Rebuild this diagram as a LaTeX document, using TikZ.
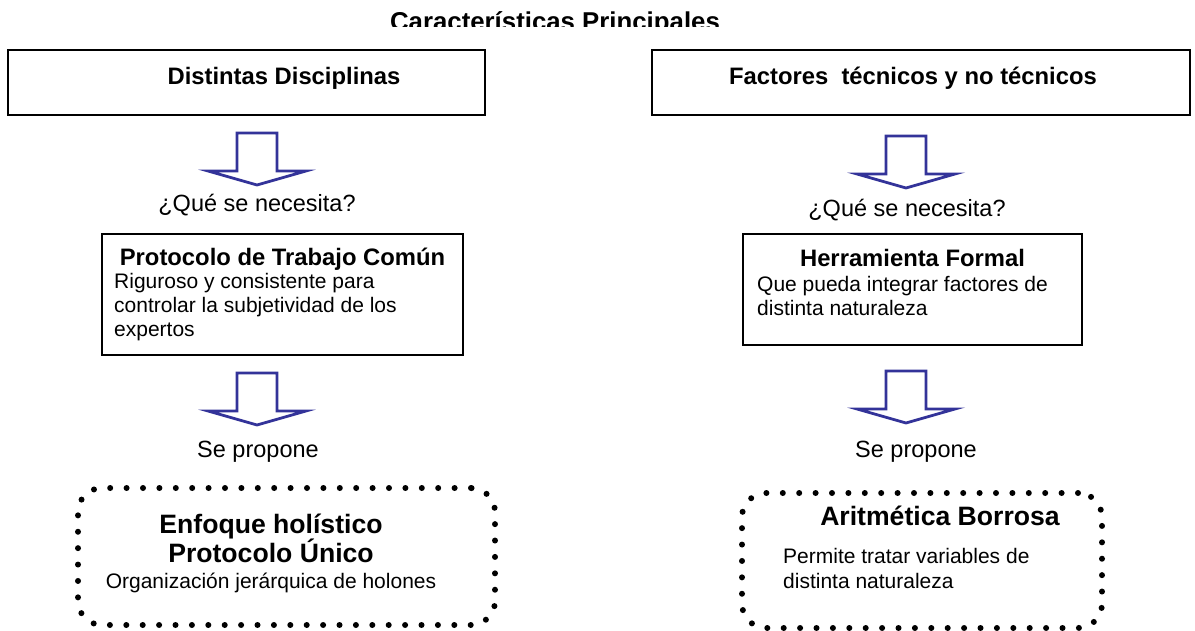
\documentclass[tikz,border=0pt]{standalone}
\usepackage{fontspec}
\setmainfont{Liberation Sans}
\usetikzlibrary{positioning}

\definecolor{arrowblue}{RGB}{51,51,153}

\tikzset{
  frame/.style={draw, line width=2.4pt, inner sep=0pt},
  dotframe/.style={draw, line width=6pt, line cap=round, dash pattern=on 0pt off 16.4pt, rounded corners=24pt, inner sep=0pt},
  titletext/.style={font=\bfseries\fontsize{25.8}{30}\selectfont, anchor=base, inner sep=0pt},
  boxhead/.style={font=\bfseries\fontsize{23.8}{28}\selectfont, anchor=base, inner sep=0pt},
  bighead/.style={font=\bfseries\fontsize{26.6}{29}\selectfont, anchor=base, inner sep=0pt},
  bodytext/.style={font=\fontsize{21}{24.2}\selectfont, align=left, anchor=base west, inner sep=0pt},
  steptext/.style={font=\fontsize{23.5}{28}\selectfont, anchor=base, inner sep=0pt},
  hollow arrow/.pic={
    \draw[arrowblue, line width=2.8pt, line join=miter, fill=white]
      (-20,0) -- (20,0) -- (20,38) -- (49,38) -- (0,52) -- (-49,38) -- (-20,38) -- cycle;
  }
}

\begin{document}
\begin{tikzpicture}[x=1pt, y=-1pt]
    \useasboundingbox (0,0) rectangle (1195,631);

    % Title (cut off at the bottom)
    \begin{scope}
        \clip (0,0) rectangle (1195,27);
        \node[titletext] (title) at (555,31) {Características Principales};
    \end{scope}

    % Top boxes
    \node[frame, minimum width=477, minimum height=65] (disc) at (246.5,82.5) {};
    \node[boxhead] (dischead) at (284,85) {Distintas Disciplinas};
    \node[frame, minimum width=538, minimum height=65] (factors) at (921,82.5) {};
    \node[boxhead] (factorshead) at (913,85) {Factores\ \ técnicos y no técnicos};

    % Left column
    \pic (askL) at (257,133) {hollow arrow};
    \node[steptext] (needL) at (257,212) {¿Qué se necesita?};
    \node[frame, minimum width=361, minimum height=121] (proto) at (282.5,294.5) {};
    \node[boxhead] (protohead) at (282.5,266) {Protocolo de Trabajo Común};
    \node[bodytext] (protobody) at (114,337) {Riguroso y consistente para\\controlar la subjetividad de los\\expertos};
    \pic (propL) at (257,373) {hollow arrow};
    \node[steptext] (propose) at (258,457) {Se propone};
    \node[dotframe, minimum width=417, minimum height=137] (holistic) at (286.5,556.5) {};
    \node[bighead] (holhead) at (271,533) {Enfoque holístico};
    \node[bighead] (unique) at (271,562) {Protocolo Único};
    \node[bodytext, anchor=base] (holons) at (271,588) {Organización jerárquica de holones};

    % Right column
    \pic (askR) at (906,136) {hollow arrow};
    \node[steptext] (needR) at (907,217) {¿Qué se necesita?};
    \node[frame, minimum width=339, minimum height=111] (tool) at (912.5,289.5) {};
    \node[boxhead] (toolhead) at (912.5,267) {Herramienta Formal};
    \node[bodytext] (toolbody) at (757,316) {Que pueda integrar factores de\\distinta naturaleza};
    \pic (propR) at (906,371) {hollow arrow};
    \node[steptext] (proposeR) at (916,457) {Se propone};
    \node[dotframe, minimum width=360, minimum height=135] (fuzzy) at (922,560.5) {};
    \node[bighead] (fuzzyhead) at (940,525) {Aritmética Borrosa};
    \node[bodytext] (fuzzybody) at (783,588) {Permite tratar variables de\\distinta naturaleza};
\end{tikzpicture}
\end{document}
